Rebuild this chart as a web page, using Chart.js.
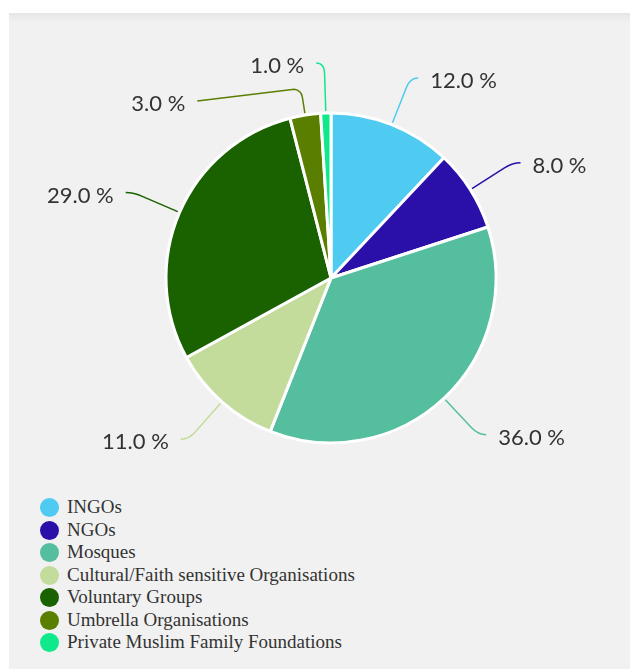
<!DOCTYPE html>
<html>
<head>
<meta charset="utf-8">
<script src="https://cdn.jsdelivr.net/npm/chart.js@4"></script>
<style>
  body { margin: 0; background: #fff; width: 630px; height: 669px; overflow: hidden; }
  #panel {
    position: absolute; left: 9px; top: 13px; width: 621px; height: 656px;
    background: linear-gradient(#e6e6e6 0px, #f1f1f1 9px, #f1f1f1 100%);
  }
  #wrap { position: absolute; left: 0; top: 0; width: 621px; height: 480px; }
  #legend {
    position: absolute; left: 31px; top: 483px;
    font-family: "Liberation Serif", "Times New Roman", serif; font-size: 19px; color: #333;
  }
  .item { height: 22.5px; line-height: 22.5px; white-space: nowrap; }
  .dot { display: inline-block; width: 19px; height: 19px; border-radius: 50%; vertical-align: -4px; margin-right: 8px; }
</style>
</head>
<body>
<div id="panel">
  <div id="wrap"><canvas id="grafico"></canvas></div>
  <div id="legend"></div>
</div>
<script>
// datos
const categorias = ["INGOs", "NGOs", "Mosques", "Cultural/Faith sensitive Organisations",
  "Voluntary Groups", "Umbrella Organisations", "Private Muslim Family Foundations"];
const porcentajes = [12, 8, 36, 11, 29, 3, 1];
const colores = ["#4fcbf1", "#2a0fa9", "#55be9e", "#c3dc9c", "#1a6100", "#5a7f00", "#0fe88b"];

/*******************************************************************************/
// etiquetas exteriores con lineas
const etiquetasPlugin = {
  id: "etiquetas",
  afterDatasetsDraw(chart) {
    const ctx = chart.ctx;
    const meta = chart.getDatasetMeta(0);
    ctx.save();
    ctx.font = "22px Lato";
    ctx.textBaseline = "middle";

    let items = meta.data.map((arc, i) => {
      const a = (arc.startAngle + arc.endAngle) / 2;
      const r = arc.outerRadius;
      const lado = Math.cos(a) >= 0 ? 1 : -1;
      const p = (d) => ({ x: arc.x + Math.cos(a) * d, y: arc.y + Math.sin(a) * d });
      const texto = porcentajes[i].toFixed(1) + " %";
      const w = ctx.measureText(texto).width;
      const anc = p(r + 50);
      return { i, a, r, lado, p, texto, w, anc, fin: { x: anc.x + lado * 8, y: anc.y }, movido: false };
    });

    function caja_de(it) {
      const x0 = it.lado > 0 ? it.fin.x + 12 : it.fin.x - 12 - it.w;
      return { left: x0, right: x0 + it.w, top: it.fin.y - 11, bottom: it.fin.y + 11 };
    }

    // evitar solapes en cada lado
    [1, -1].forEach((lado) => {
      const grupo = items.filter((it) => it.lado === lado).sort((m, n) => m.anc.y - n.anc.y);
      let prev = null;
      grupo.forEach((it) => {
        let caja = caja_de(it);
        if (prev && caja.top < prev.bottom + 4) {
          it.movido = true;
          it.fin = lado < 0
            ? { x: prev.left - 53, y: prev.bottom + 27 }
            : { x: prev.right + 53, y: prev.bottom + 27 };
          caja = caja_de(it);
        }
        prev = caja;
      });
    });

    items.forEach((it) => {
      ctx.strokeStyle = colores[it.i];
      ctx.lineWidth = 1.5;
      ctx.beginPath();
      const p0 = it.p(it.r + 2);
      ctx.moveTo(p0.x, p0.y);
      if (it.movido) {
        const b1 = it.p(it.r + 18);
        const b = it.p(it.r + 25);
        ctx.lineTo(b1.x, b1.y);
        ctx.quadraticCurveTo(b.x, b.y, b.x + it.lado * 7, b.y - 1);
        ctx.lineTo(it.fin.x, it.fin.y);
      } else {
        const b1 = it.p(it.r + 40);
        ctx.lineTo(b1.x, b1.y);
        ctx.quadraticCurveTo(it.anc.x, it.anc.y, it.fin.x, it.fin.y);
      }
      ctx.stroke();
      const caja = caja_de(it);
      ctx.fillStyle = "#333";
      ctx.textAlign = "left";
      ctx.fillText(it.texto, caja.left, it.fin.y + 3);
    });
    ctx.restore();
  }
};

/*******************************************************************************/
// grafico
const ctx = document.getElementById("grafico").getContext("2d");
const grafico = new Chart(ctx, {
  type: "pie",
  data: {
    labels: categorias,
    datasets: [{
      data: porcentajes,
      backgroundColor: colores,
      borderColor: "#fff",
      borderWidth: 3
    }]
  },
  options: {
    responsive: true,
    maintainAspectRatio: false,
    animation: false,
    radius: 165,
    layout: { padding: { top: 100, bottom: 50, left: 57, right: 34 } },
    plugins: {
      legend: { display: false },
      tooltip: { enabled: false }
    }
  },
  plugins: [etiquetasPlugin]
});

// leyenda html
const leyenda = document.getElementById("legend");
categorias.forEach((nombre, i) => {
  const fila = document.createElement("div");
  fila.className = "item";
  const punto = document.createElement("span");
  punto.className = "dot";
  punto.style.background = colores[i];
  fila.appendChild(punto);
  fila.appendChild(document.createTextNode(nombre));
  leyenda.appendChild(fila);
});
</script>
</body>
</html>
